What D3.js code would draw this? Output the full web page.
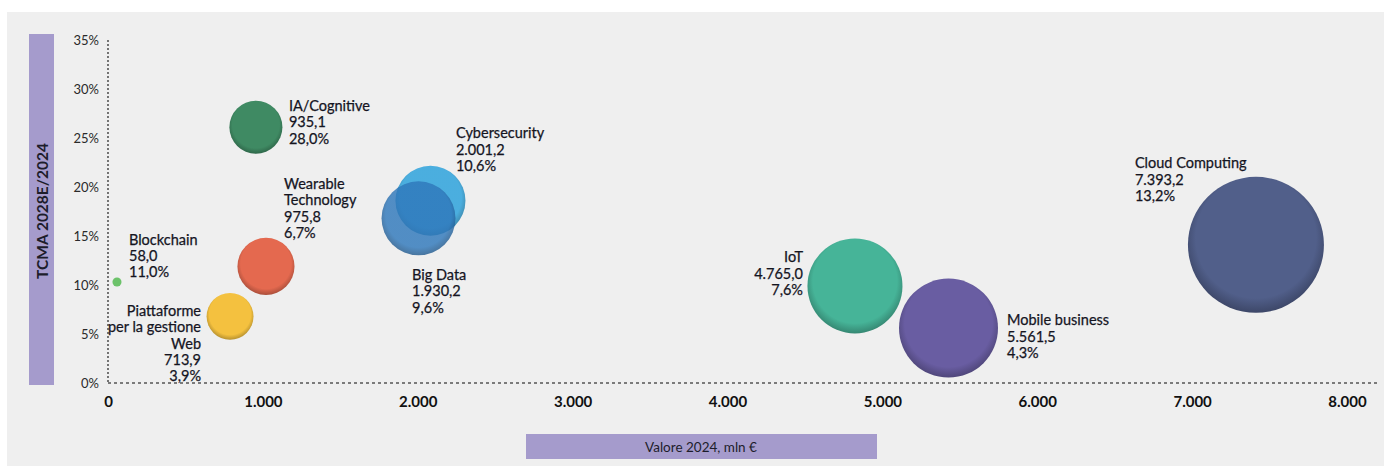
<!DOCTYPE html>
<html>
<head>
<meta charset="utf-8">
<script src="https://cdn.jsdelivr.net/npm/d3@7"></script>
<style>
  html, body { margin: 0; padding: 0; background: #ffffff; }
  svg { display: block; }
  text { font-family: Lato, "Open Sans", sans-serif; }
</style>
</head>
<body>
<svg id="chart" width="1389" height="466"></svg>
<script>
// ---- data ----
const categories = ["IA/Cognitive", "Wearable Technology", "Blockchain", "Piattaforme per la gestione Web",
  "Big Data", "Cybersecurity", "IoT", "Mobile business", "Cloud Computing"];
const nameLines = [["IA/Cognitive"], ["Wearable", "Technology"], ["Blockchain"],
  ["Piattaforme", "per la gestione", "Web"], ["Big Data"], ["Cybersecurity"], ["IoT"],
  ["Mobile business"], ["Cloud Computing"]];
const valueLabels = ["935,1", "975,8", "58,0", "713,9", "1.930,2", "2.001,2", "4.765,0", "5.561,5", "7.393,2"];
const pctLabels = ["28,0%", "6,7%", "11,0%", "3,9%", "9,6%", "10,6%", "7,6%", "4,3%", "13,2%"];
// plotted positions
const xValues = [955, 1020, 58, 788, 2005, 2082, 4823, 5427, 7412];       // Valore 2024, mln €
const yValues = [26.1, 11.9, 10.3, 6.8, 16.8, 18.6, 9.9, 5.6, 14.1];      // TCMA 2028E/2024, %
const sizeValues = [15.2, 17.6, 0.44, 11.9, 29.6, 26.5, 48.8, 53, 100];  // relative bubble size
const xTicks = [0, 1000, 2000, 3000, 4000, 5000, 6000, 7000, 8000];
const xTickLabels = ["0", "1.000", "2.000", "3.000", "4.000", "5.000", "6.000", "7.000", "8.000"];
const yTicks = [0, 5, 10, 15, 20, 25, 30, 35];
const yTickLabels = ["0%", "5%", "10%", "15%", "20%", "25%", "30%", "35%"];

// ---- styles / layout ----
const colors = ["#3f8a63", "#e4694f", "#6cc26a", "#f4c13f", "#2f78bb", "#39a7dd", "#46b498", "#695da2", "#515f8a"];
const opac = [1, 1, 1, 1, 0.82, 0.9, 1, 1, 1];
const labelLayout = [
  {dx: 33, dy: -22, anchor: "start"},
  {dx: 18, dy: -83, anchor: "start"},
  {dx: 12, dy: -43, anchor: "start"},
  {dx: -29, dy: -6, anchor: "end"},
  {dx: -6.5, dy: 56, anchor: "start"},
  {dx: 25.5, dy: -68, anchor: "start"},
  {dx: -52, dy: -29, anchor: "end"},
  {dx: 58.5, dy: -8.5, anchor: "start"},
  {dx: -121, dy: -82, anchor: "start"}
];
const drawOrder = [8, 7, 6, 5, 4, 0, 1, 3, 2];

const svg = d3.select("#chart");
const x = d3.scaleLinear().domain([0, 8000]).range([108, 1347]);
const y = d3.scaleLinear().domain([0, 35]).range([383, 40]);
const r = d3.scaleSqrt().domain([0, 100]).range([0, 68]);

// background panel
svg.append("rect").attr("x", 7).attr("y", 12).attr("width", 1377).attr("height", 454).attr("fill", "#efefef");

// gradients
const defs = svg.append("defs");
colors.forEach((c, i) => {
  const g = defs.append("radialGradient").attr("id", "g" + i)
    .attr("cx", "50%").attr("cy", "46%").attr("r", "54%").attr("fx", "50%").attr("fy", "40%");
  g.append("stop").attr("offset", "0%").attr("stop-color", c);
  g.append("stop").attr("offset", "82%").attr("stop-color", c);
  g.append("stop").attr("offset", "100%").attr("stop-color", d3.color(c).darker(0.8));
});

// axis title boxes
svg.append("rect").attr("x", 29).attr("y", 34).attr("width", 25).attr("height", 351).attr("fill", "#a59bcc");
svg.append("text").attr("transform", "translate(42,211) rotate(-90)")
  .attr("text-anchor", "middle").attr("dominant-baseline", "central")
  .attr("font-size", 15.5).attr("font-weight", 700).attr("fill", "#1d1d2b").text("TCMA 2028E/2024");
svg.append("rect").attr("x", 526).attr("y", 434).attr("width", 351).attr("height", 25).attr("fill", "#a59bcc");
svg.append("text").attr("x", 701).attr("y", 447).attr("text-anchor", "middle").attr("dominant-baseline", "central")
  .attr("font-size", 13.5).attr("fill", "#1d1d2b").text("Valore 2024, mln €");

// axes (dotted)
const xAxis = d3.axisBottom(x).tickValues(xTicks).tickSize(0).tickPadding(13)
  .tickFormat((d, i) => xTickLabels[i]);
const gx = svg.append("g").attr("transform", "translate(0,383)").call(xAxis);
gx.select(".domain").attr("d", "M108,0H1380").attr("stroke", "#555").attr("stroke-width", 1.6).attr("stroke-dasharray", "3,3");
gx.selectAll("text").attr("font-size", 15).attr("font-weight", 700).attr("fill", "#111")
  .attr("font-family", "Lato, sans-serif");

const yAxis = d3.axisLeft(y).tickValues(yTicks).tickSize(0).tickPadding(9)
  .tickFormat((d, i) => yTickLabels[i]);
const gy = svg.append("g").attr("transform", "translate(108,0)").call(yAxis);
gy.select(".domain").attr("d", "M0,40V383").attr("stroke", "#555").attr("stroke-width", 1.6).attr("stroke-dasharray", "2,2");
gy.selectAll("text").attr("font-size", 13).attr("fill", "#2a2a2a").attr("font-family", "Lato, sans-serif");

// bubbles
svg.append("g").selectAll("circle").data(drawOrder).join("circle")
  .attr("cx", i => x(xValues[i]))
  .attr("cy", i => y(yValues[i]))
  .attr("r", i => Math.max(r(sizeValues[i]), 4.5))
  .attr("fill", i => i === 2 ? colors[i] : `url(#g${i})`)
  .attr("fill-opacity", i => opac[i]);

// labels
const lh = 16.4;
const lg = svg.append("g");
categories.forEach((c, i) => {
  const L = labelLayout[i];
  const lines = nameLines[i].concat([valueLabels[i], pctLabels[i]]);
  const t = lg.append("text")
    .attr("x", x(xValues[i]) + L.dx)
    .attr("y", y(yValues[i]) + L.dy)
    .attr("text-anchor", L.anchor)
    .attr("font-size", 14.5).attr("fill", "#15151f")
    .attr("stroke", "#15151f").attr("stroke-width", 0.25);
  lines.forEach((s, k) => {
    t.append("tspan").attr("x", x(xValues[i]) + L.dx)
      .attr("y", y(yValues[i]) + L.dy + k * lh)
      .attr("dominant-baseline", "central").text(s);
  });
});
</script>
</body>
</html>
